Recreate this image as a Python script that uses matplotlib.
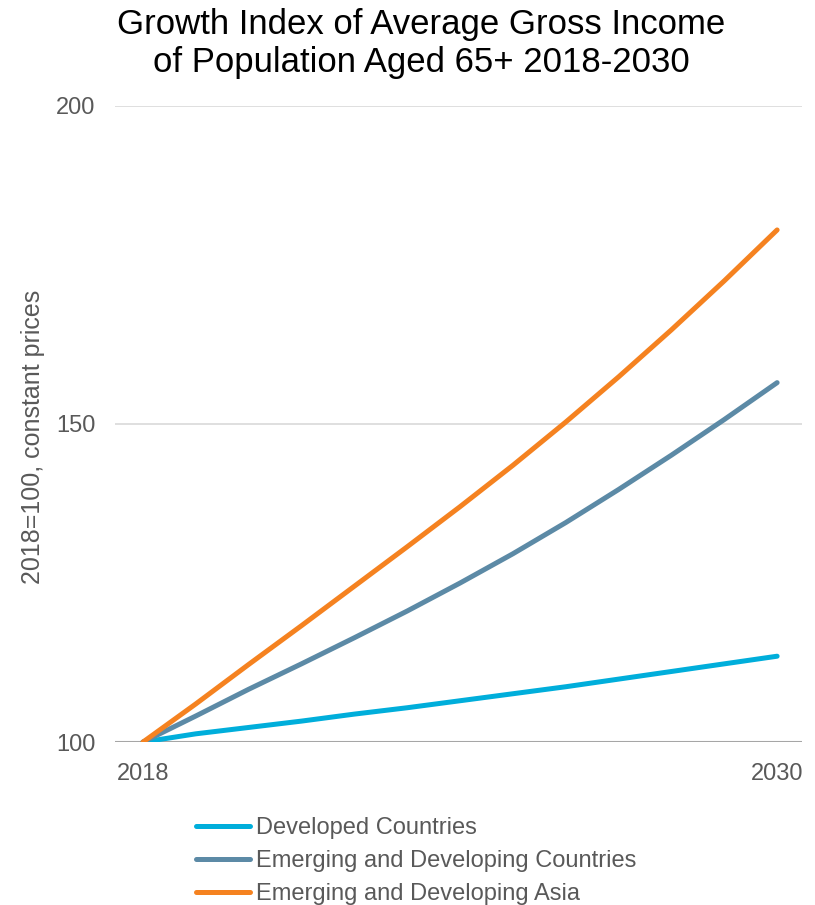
import matplotlib
matplotlib.use("Agg")
import matplotlib.pyplot as plt
from matplotlib.lines import Line2D

plt.rcParams['font.family'] = ['Liberation Sans', 'DejaVu Sans']

years = list(range(2018, 2031))
developed = [100, 101.3, 102.3, 103.3, 104.4, 105.4, 106.5, 107.6, 108.7, 109.9, 111.1, 112.3, 113.5]
emerging = [100, 104.1, 108.3, 112.3, 116.4, 120.6, 125.0, 129.6, 134.5, 139.7, 145.1, 150.7, 156.5]
emerging_asia = [100, 106.0, 112.2, 118.3, 124.5, 130.7, 137.0, 143.5, 150.3, 157.4, 164.8, 172.5, 180.5]

series_names = ['Developed Countries', 'Emerging and Developing Countries', 'Emerging and Developing Asia']
colors = ['#00AEDB', '#5C8AA6', '#F58220']
text_color = '#595959'

fig = plt.figure(figsize=(8.15, 9.05), dpi=100)
ax = fig.add_axes([0.141, 0.180, 0.843, 0.703])

for vals, c in zip([developed, emerging, emerging_asia], colors):
    ax.plot(years, vals, color=c, linewidth=3.6, solid_capstyle='round', zorder=3)

ax.set_ylim(100, 200)
ax.set_xlim(2017.47, 2030.47)
ax.set_yticks([100, 150, 200])
ax.set_xticks([2018, 2030])
ax.grid(True, axis='y', color='#D9D9D9', linewidth=1.2)
ax.axhline(100, color='#A6A6A6', linewidth=1.5, zorder=2)
for s in ax.spines.values():
    s.set_visible(False)
ax.tick_params(length=0, labelsize=17, labelcolor=text_color)
ax.tick_params(axis='y', pad=14)
ax.tick_params(axis='x', pad=15)

ax.set_ylabel('2018=100, constant prices', fontsize=18, color=text_color)
ax.yaxis.set_label_coords(-0.102, 0.48)

fig.text(0.517, 0.952, 'Growth Index of Average Gross Income\nof Population Aged 65+ 2018-2030',
         ha='center', va='center', fontsize=25, color='black', linespacing=1.16)

handles = [Line2D([0], [0], color=c, linewidth=3.6, solid_capstyle='round') for c in colors]
leg = fig.legend(handles, series_names, loc='upper left', bbox_to_anchor=(196 / 815, 1 - 817 / 905),
                 frameon=False, fontsize=17, handlelength=2.3, handletextpad=0.25,
                 labelspacing=0.47, borderaxespad=0, borderpad=0)
for t in leg.get_texts():
    t.set_color(text_color)

fig.savefig('out.png', dpi=100)
